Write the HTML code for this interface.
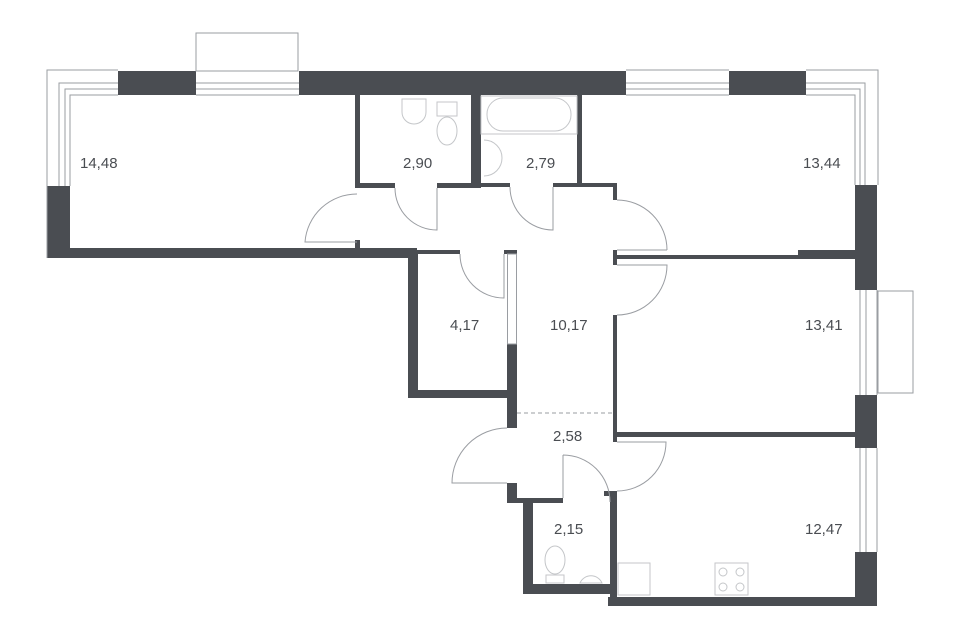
<!DOCTYPE html>
<html><head><meta charset="utf-8"><style>
html,body{margin:0;padding:0;background:#fff;width:960px;height:640px;overflow:hidden}
svg{display:block}
text{font-family:"Liberation Sans",sans-serif;font-size:15px;fill:#4a4d52}
</style></head><body>
<svg width="960" height="640" viewBox="0 0 960 640">
<g fill="#4a4d52">
<rect x="118" y="71" width="78" height="24"/>
<rect x="299" y="71" width="327" height="24"/>
<rect x="729" y="71" width="77" height="24"/>
<rect x="47" y="186" width="23" height="72"/>
<rect x="47" y="248" width="370" height="10"/>
<rect x="408" y="250" width="10" height="148"/>
<rect x="418" y="250" width="42" height="4"/>
<rect x="408" y="390" width="102" height="8"/>
<rect x="355" y="95" width="5" height="93"/>
<rect x="355" y="240" width="5" height="10"/>
<rect x="360" y="183" width="35" height="5"/>
<rect x="437" y="183" width="44" height="5"/>
<rect x="471" y="95" width="10" height="93"/>
<rect x="481" y="183" width="29" height="4"/>
<rect x="553" y="183" width="64" height="4"/>
<rect x="577" y="95" width="5" height="90"/>
<rect x="613" y="185" width="4" height="15"/>
<rect x="613" y="250" width="4" height="15"/>
<rect x="617" y="255" width="238" height="4"/>
<rect x="798" y="250" width="57" height="8"/>
<rect x="613" y="315" width="4" height="127"/>
<rect x="617" y="432" width="238" height="5"/>
<rect x="504" y="250" width="13" height="4"/>
<rect x="507" y="344" width="10" height="84"/>
<rect x="507" y="483" width="10" height="20"/>
<rect x="507" y="498" width="56" height="5"/>
<rect x="523" y="498" width="10" height="96"/>
<rect x="523" y="584" width="87" height="10"/>
<rect x="604" y="491" width="13" height="5"/>
<rect x="610" y="491" width="7" height="115"/>
<rect x="608" y="597" width="269" height="9"/>
<rect x="855" y="185" width="22" height="105"/>
<rect x="855" y="395" width="22" height="53"/>
<rect x="855" y="552" width="22" height="54"/>
</g>
<g fill="none" stroke="#9a9da2" stroke-width="1">
<rect x="507.5" y="254" width="9" height="90"/>
<polyline points="47,258 47,70 118,70"/>
<polyline points="59,186 59,83 118,83"/>
<polyline points="65,186 65,89 118,89"/>
<polyline points="70,186 70,95 118,95"/>
<rect x="196" y="33" width="102" height="38"/>
<line x1="196" y1="83" x2="299" y2="83"/><line x1="196" y1="89" x2="299" y2="89"/><line x1="196" y1="95" x2="299" y2="95"/>
<line x1="626" y1="70" x2="729" y2="70"/><line x1="626" y1="83" x2="729" y2="83"/><line x1="626" y1="89" x2="729" y2="89"/><line x1="626" y1="95" x2="729" y2="95"/>
<polyline points="806,70 878,70 878,185"/>
<polyline points="806,83 865,83 865,185"/>
<polyline points="806,89 860,89 860,185"/>
<polyline points="806,95 855,95 855,185"/>
<line x1="860" y1="290" x2="860" y2="395"/><line x1="866" y1="290" x2="866" y2="395"/><line x1="877" y1="290" x2="877" y2="395"/>
<rect x="878" y="291" width="35" height="102"/>
<line x1="860" y1="448" x2="860" y2="552"/><line x1="866" y1="448" x2="866" y2="552"/><line x1="877" y1="448" x2="877" y2="552"/>
<path d="M357,194 A52,52 0 0 0 305,242 L357,242"/>
<path d="M395,188 A42,42 0 0 0 437,230 L437,188"/>
<path d="M510,187 A43,43 0 0 0 553,230 L553,187"/>
<path d="M617,200 A50,50 0 0 1 667,250"/><path d="M617,250 L667,250"/>
<path d="M617,265 L667,265 A50,50 0 0 1 617,315"/>
<path d="M460,254 A44,44 0 0 0 504,298 L504,254"/>
<path d="M507,428 A55,55 0 0 0 452,483 L507,483"/>
<path d="M563,455 L563,498 M563,455 A47,47 0 0 1 610,502"/>
<path d="M617,442 L666,442 A49,49 0 0 1 617,491"/>
<line x1="517" y1="413" x2="613" y2="413" stroke-dasharray="4,3"/>
</g>
<g fill="none" stroke="#c4c6c9" stroke-width="1">
<rect x="481" y="96" width="96" height="38"/>
<rect x="487" y="98" width="84" height="33" rx="16"/>
<path d="M484,140 A18,18 0 0 1 484,176"/>
<path d="M402,99 L426,99 L426,112 A12,12 0 0 1 402,112 Z"/>
<rect x="437" y="102" width="20" height="14"/>
<ellipse cx="447" cy="131" rx="10" ry="14"/>
<ellipse cx="555" cy="560" rx="10" ry="14"/>
<path d="M546,575 h18 v8 h-18z"/>
<path d="M580,583 A12,12 0 0 1 602,583 Z"/>
<rect x="618" y="563" width="32" height="32"/>
<rect x="715" y="563" width="33" height="32"/>
<circle cx="723" cy="572" r="4"/><circle cx="740" cy="572" r="4"/><circle cx="723" cy="587" r="4"/><circle cx="740" cy="587" r="4"/>
</g>
<text x="80" y="168">14,48</text>
<text x="403" y="168">2,90</text>
<text x="526" y="168">2,79</text>
<text x="803" y="168">13,44</text>
<text x="450" y="330">4,17</text>
<text x="550" y="330">10,17</text>
<text x="805" y="330">13,41</text>
<text x="553" y="441">2,58</text>
<text x="554" y="534">2,15</text>
<text x="805" y="534">12,47</text>
</svg>
</body></html>
